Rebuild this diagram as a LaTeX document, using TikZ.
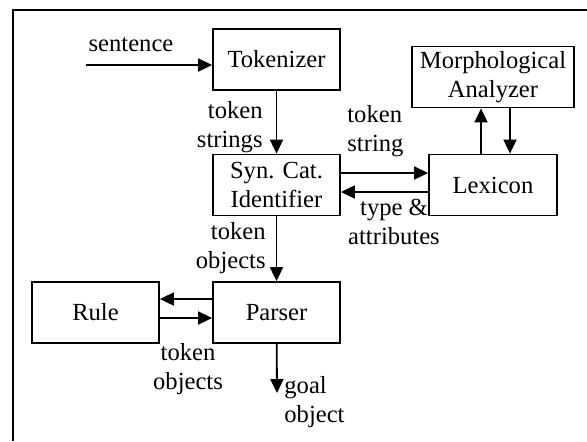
\documentclass[tikz,border=0pt]{standalone}
\usepackage{fontspec}
\setmainfont{Liberation Serif}
\usetikzlibrary{arrows.meta,positioning,calc}

\begin{document}
\begin{tikzpicture}[x=0.5pt,y=-0.5pt,font=\fontsize{12.3}{14.5}\selectfont,
  box/.style={draw,line width=0.9pt,minimum width=63.5pt,minimum height=30.5pt,
    align=center,inner sep=1pt},
  arr/.style={-{Triangle[length=7pt,width=6.5pt]},line width=0.9pt},
  lbl/.style={inner sep=0pt}]
  \useasboundingbox (0,0) rectangle (587,441);
  % outer frame, cut off at right and bottom
  \draw[line width=1.3pt] (13,441) -- (13,10) -- (587,10);

  % boxes
  \node[box] (tok) at (276.5,59.5) {Tokenizer};
  \node[box] (syn) at (276.5,185) {Syn. Cat.\\Identifier};
  \node[box, minimum width=81pt] (morph) at (493,77) {Morphological\\Analyzer};
  \node[box, minimum width=64pt] (lex) at (493,185) {Lexicon};
  \node[box] (parser) at (276.5,312.5) {Parser};
  \node[box] (rule) at (95.5,312.5) {Rule};

  % free ends
  \coordinate (in) at (86,65);
  \coordinate (out) at (277,393);

  % connectors
  \draw[arr] (in) -- (in -| tok.west);
  \draw[arr] (tok) -- (syn);
  \draw[arr] ([yshift=6pt]syn.east) -- ([yshift=6pt]syn.east -| lex.west);
  \draw[arr] ([yshift=-3.5pt]lex.west) -- ([yshift=-3.5pt]lex.west -| syn.east);
  \draw[arr] ([xshift=-6pt]lex.north) -- ([xshift=-6pt]lex.north |- morph.south);
  \draw[arr] ([xshift=8.5pt]morph.south) -- ([xshift=8.5pt]morph.south |- lex.north);
  \draw[arr] (syn) -- (parser);
  \draw[arr] ([yshift=6.75pt]parser.west) -- ([yshift=6.75pt]parser.west -| rule.east);
  \draw[arr] ([yshift=-2.75pt]rule.east) -- ([yshift=-2.75pt]rule.east -| parser.west);
  \draw[arr] (parser) -- (out);

  % labels
  \node[lbl] (l1) at (131,45) {sentence};
  \node[lbl, anchor=east, align=right] (l2) at (263,127) {token\\strings};
  \node[lbl, anchor=west, align=left] (l3) at (347,131) {token\\string};
  \node[lbl, align=center] (l4) at (394,222) {type \&\\attributes};
  \node[lbl, anchor=east, align=right] (l5) at (266,248.5) {token\\objects};
  \node[lbl, align=center] (l6) at (188,369) {token\\objects};
  \node[lbl, anchor=west, align=left] (l7) at (284,402.5) {goal\\object};
\end{tikzpicture}
\end{document}
